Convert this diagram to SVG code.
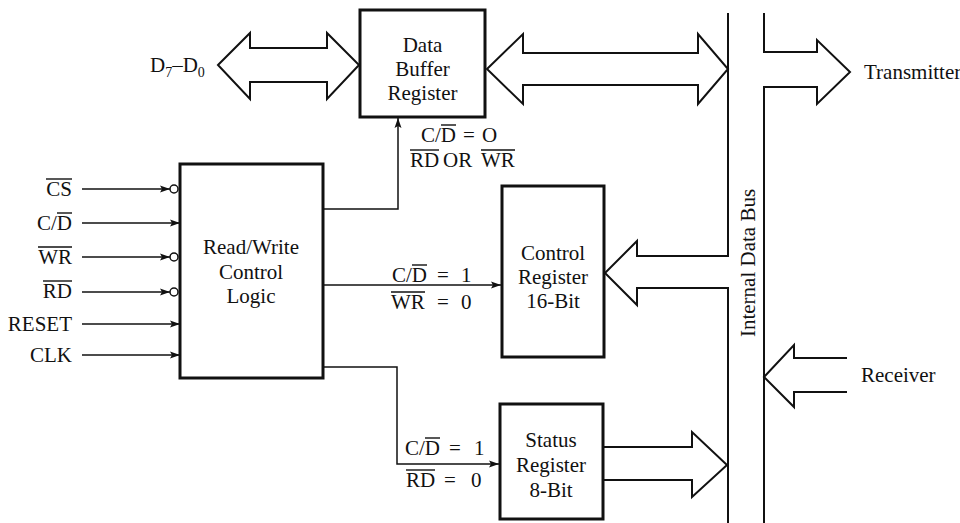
<svg xmlns="http://www.w3.org/2000/svg" width="960" height="523" viewBox="0 0 960 523">
<style>
text{font-family:"Liberation Serif","Times New Roman","DejaVu Serif",serif;font-size:21px;fill:#111}
.c{text-anchor:middle}
.e{text-anchor:end}
.box{fill:#fff;stroke:#111;stroke-width:3}
.bar{stroke:#111;stroke-width:1.4}
.wire{fill:none;stroke:#111;stroke-width:1.5}
.fat{fill:#fff;stroke:#111;stroke-width:2;stroke-linejoin:miter}
.bus{fill:none;stroke:#111;stroke-width:2}
</style>
<defs>
<marker id="ah" markerUnits="userSpaceOnUse" markerWidth="11" markerHeight="8" refX="10" refY="4" orient="auto">
<path d="M0,0.5 L10,4 L0,7.5 L2,4 z" fill="#111"/>
</marker>
</defs>

<g id="connectors">
<path class="wire" d="M82,189 H170" marker-end="url(#ah)"/>
<circle cx="174" cy="189" r="4" fill="#fff" stroke="#111" stroke-width="1.5"/>
<path class="wire" d="M82,223 H180" marker-end="url(#ah)"/>
<path class="wire" d="M82,257 H170" marker-end="url(#ah)"/>
<circle cx="174" cy="257" r="4" fill="#fff" stroke="#111" stroke-width="1.5"/>
<path class="wire" d="M82,292 H170" marker-end="url(#ah)"/>
<circle cx="174" cy="292" r="4" fill="#fff" stroke="#111" stroke-width="1.5"/>
<path class="wire" d="M82,324 H180" marker-end="url(#ah)"/>
<path class="wire" d="M82,355 H180" marker-end="url(#ah)"/>
<path class="wire" d="M323,209 H398 V118" marker-end="url(#ah)"/>
<path class="wire" d="M323,285 H501" marker-end="url(#ah)"/>
<path class="wire" d="M323,367 H397 V464 H499" marker-end="url(#ah)"/>
<polygon class="fat" points="218,65 250,33 250,48 327,48 327,33 359,65 327,99 327,82 250,82 250,99"/>
<polygon class="fat" points="487,69 523,34 523,53 698,53 698,34 728,69 698,104 698,85 523,85 523,104"/>
<polyline class="bus" points="728,13 728,256 637,256 637,241 605,273 637,305 637,288 728,288 728,523"/>
<polyline class="bus" points="764,13 764,52 817,52 817,40 850,72 817,104 817,87 764,87 764,523"/>
<polyline class="bus" points="847,358 794,358 794,345 764,377 794,407 794,392 847,392"/>
<polyline class="bus" points="603,447 692,447 692,432 727,465 692,497 692,480 603,480"/>
</g>

<g id="labels">
<text class="e" x="72" y="196">CS</text>
<line class="bar" x1="46" y1="179" x2="72" y2="179"/>
<text class="e" x="72" y="230">C/D</text>
<line class="bar" x1="57" y1="213" x2="72" y2="213"/>
<text class="e" x="72" y="264">WR</text>
<line class="bar" x1="38" y1="247" x2="72" y2="247"/>
<text class="e" x="72" y="298">RD</text>
<line class="bar" x1="43" y1="281" x2="72" y2="281"/>
<text class="e" x="72" y="331">RESET</text>
<text class="e" x="72" y="362">CLK</text>

<text x="150" y="72">D<tspan font-size="14" dy="5">7</tspan><tspan dy="-5">–D</tspan><tspan font-size="14" dy="5">0</tspan></text>

<text x="421" y="142">C/D</text>
<line class="bar" x1="441" y1="125" x2="456" y2="125"/>
<text x="463" y="142">=</text>
<text x="482" y="142">O</text>
<text x="410" y="167">RD</text>
<line class="bar" x1="410" y1="150" x2="439" y2="150"/>
<text x="443" y="167">OR</text>
<text x="481" y="167">WR</text>
<line class="bar" x1="481" y1="150" x2="515" y2="150"/>

<text x="392" y="282">C/D</text>
<line class="bar" x1="412" y1="265" x2="427" y2="265"/>
<text x="437" y="282">=</text>
<text x="461" y="282">1</text>
<text x="391" y="309">WR</text>
<line class="bar" x1="391" y1="292" x2="425" y2="292"/>
<text x="437" y="309">=</text>
<text x="461" y="309">0</text>

<text x="405" y="455">C/D</text>
<line class="bar" x1="425" y1="438" x2="440" y2="438"/>
<text x="449" y="455">=</text>
<text x="474" y="455">1</text>
<text x="406" y="487">RD</text>
<line class="bar" x1="406" y1="470" x2="435" y2="470"/>
<text x="444" y="487">=</text>
<text x="471" y="487">0</text>

<text x="864" y="79" font-size="20">Transmitter</text>
<text x="861" y="382">Receiver</text>
<text class="c" transform="translate(755,263) rotate(-90)">Internal Data Bus</text>
</g>

<g id="data-buffer-register">
<rect class="box" x="360" y="10" width="125" height="107"/>
<text class="c" x="422.5" y="52">Data</text>
<text class="c" x="422.5" y="76">Buffer</text>
<text class="c" x="422.5" y="100">Register</text>
</g>

<g id="read-write-control-logic">
<rect class="box" x="180" y="164" width="143" height="214"/>
<text class="c" x="251" y="254">Read/Write</text>
<text class="c" x="251" y="279">Control</text>
<text class="c" x="251" y="303">Logic</text>
</g>

<g id="control-register">
<rect class="box" x="502" y="186" width="102" height="171"/>
<text class="c" x="553" y="260">Control</text>
<text class="c" x="553" y="284">Register</text>
<text class="c" x="553" y="308">16-Bit</text>
</g>

<g id="status-register">
<rect class="box" x="500" y="404" width="103" height="115"/>
<text class="c" x="551" y="447">Status</text>
<text class="c" x="551" y="472">Register</text>
<text class="c" x="551" y="497">8-Bit</text>
</g>
</svg>
